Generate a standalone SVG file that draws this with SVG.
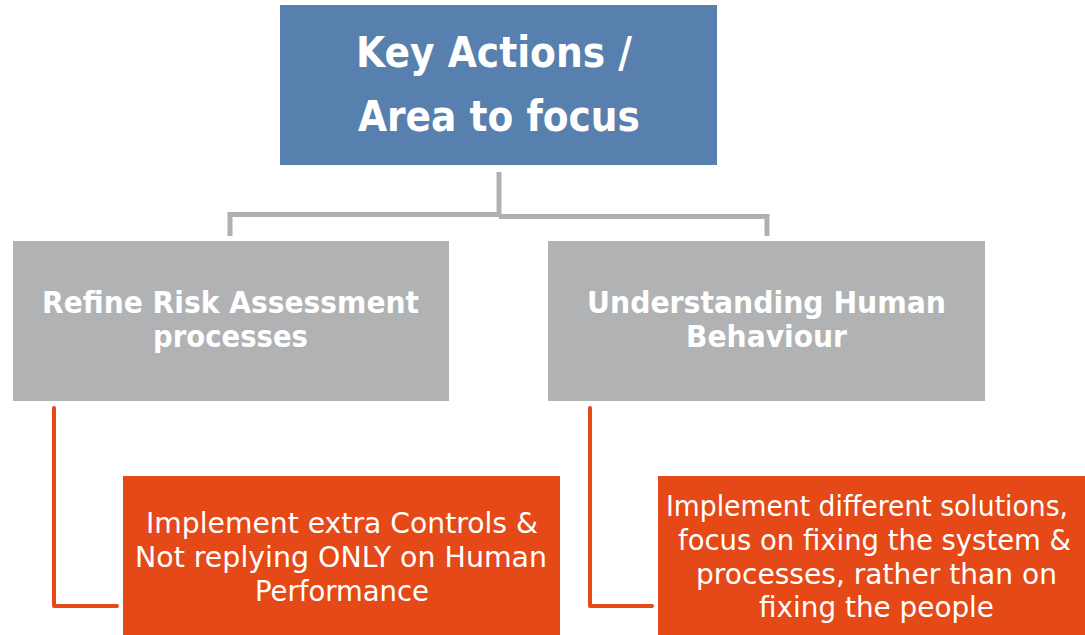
<svg xmlns="http://www.w3.org/2000/svg" width="1085" height="635" viewBox="0 0 1085 635">
<style>
.blue{fill:#5880ae}
.gray{fill:#b1b2b4}
.orange{fill:#e54917}
.tb{font-family:"DejaVu Sans","Liberation Sans",sans-serif;font-weight:bold;fill:#fff}
.tr{font-family:"DejaVu Sans","Liberation Sans",sans-serif;fill:#fff}
.cg{fill:none;stroke:#b0b0b2;stroke-width:5}
.co{fill:none;stroke:#e54917;stroke-width:4;stroke-linejoin:round;stroke-linecap:round}
</style>
<rect width="1085" height="635" fill="#fff"/>
<g id="connectors">
<path class="cg" d="M499 172 V216"/>
<path class="cg" d="M230 236 V214.5 H499"/>
<path class="cg" d="M499 216.5 H767 V236"/>
<path class="co" d="M54 408 V606 H117"/>
<path class="co" d="M590 408 V606 H652"/>
</g>
<g id="root">
<rect class="blue" x="280" y="5" width="437" height="160"/>
<text class="tb" font-size="42" x="356" y="67" textLength="276" lengthAdjust="spacingAndGlyphs">Key Actions /</text>
<text class="tb" font-size="42" x="358" y="131" textLength="282" lengthAdjust="spacingAndGlyphs">Area to focus</text>
</g>
<g id="node-risk">
<rect class="gray" x="13" y="241" width="436" height="160"/>
<text class="tb" font-size="29.5" x="42" y="313" textLength="377" lengthAdjust="spacingAndGlyphs">Refine Risk Assessment</text>
<text class="tb" font-size="29.5" x="153" y="347" textLength="155" lengthAdjust="spacingAndGlyphs">processes</text>
</g>
<g id="node-human">
<rect class="gray" x="548" y="241" width="437" height="160"/>
<text class="tb" font-size="29.5" x="587" y="313" textLength="359" lengthAdjust="spacingAndGlyphs">Understanding Human</text>
<text class="tb" font-size="29.5" x="686" y="347" textLength="161" lengthAdjust="spacingAndGlyphs">Behaviour</text>
</g>
<g id="node-controls">
<rect class="orange" x="123" y="476" width="437" height="159"/>
<text class="tr" font-size="29" x="146" y="533" textLength="392" lengthAdjust="spacingAndGlyphs">Implement extra Controls &amp;</text>
<text class="tr" font-size="29" x="135" y="567" textLength="412" lengthAdjust="spacingAndGlyphs">Not replying ONLY on Human</text>
<text class="tr" font-size="29" x="255" y="601" textLength="174" lengthAdjust="spacingAndGlyphs">Performance</text>
</g>
<g id="node-solutions">
<rect class="orange" x="658" y="476" width="427" height="159"/>
<text class="tr" font-size="28.5" x="666" y="516" textLength="402" lengthAdjust="spacingAndGlyphs">Implement different solutions,</text>
<text class="tr" font-size="28.5" x="678" y="550" textLength="393" lengthAdjust="spacingAndGlyphs">focus on fixing the system &amp;</text>
<text class="tr" font-size="28.5" x="696" y="584" textLength="361" lengthAdjust="spacingAndGlyphs">processes, rather than on</text>
<text class="tr" font-size="28.5" x="759" y="617" textLength="235" lengthAdjust="spacingAndGlyphs">fixing the people</text>
</g>
</svg>
